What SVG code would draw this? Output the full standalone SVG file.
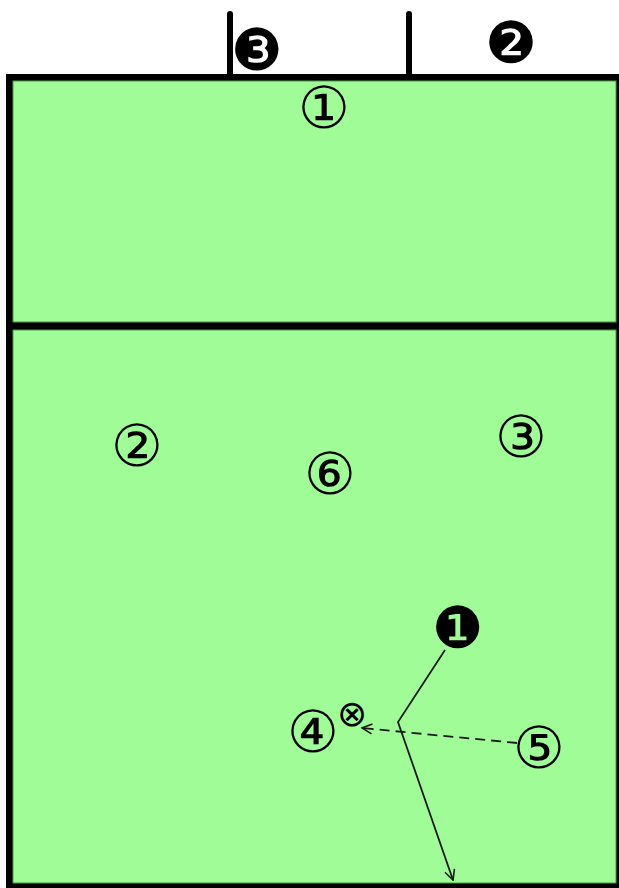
<svg xmlns="http://www.w3.org/2000/svg" width="619" height="888" viewBox="0 0 619 888">
<style>
.court{fill:#9ffc97;stroke:#4a9a44;stroke-width:1}
.post{stroke:#000;stroke-width:6;stroke-linecap:round}
.p{font-family:"DejaVu Sans",sans-serif;font-size:58px;text-anchor:middle;fill:#000}
.ball{font-family:"DejaVu Sans",sans-serif;font-size:36px;text-anchor:middle;fill:#000}
.move{stroke:#1a1a1a;stroke-width:1.8;fill:none}
</style>
<defs>
<marker id="arr" viewBox="0 0 12 12" refX="11" refY="6" markerWidth="12" markerHeight="12" markerUnits="userSpaceOnUse" orient="auto">
<path d="M1,1 L11,6 L1,11" fill="none" stroke="#1a1a1a" stroke-width="1.6"/>
</marker>
</defs>
<g id="court">
<rect x="6" y="74" width="620" height="820" fill="#000"/>
<rect class="court" x="13" y="81" width="603" height="241"/>
<rect class="court" x="13" y="330" width="603" height="553"/>
</g>
<g id="net">
<line class="post" x1="230" y1="14" x2="230" y2="76"/>
<line class="post" x1="409" y1="14" x2="409" y2="76"/>
</g>
<g id="connectors">
<polyline class="move" points="445,650 398,722 453,880" marker-end="url(#arr)"/>
<line class="move" x1="517" y1="743" x2="362" y2="728" stroke-dasharray="10,6" marker-end="url(#arr)"/>
</g>
<g id="opp3"><text class="p" x="257" y="70">❸</text></g>
<g id="opp2"><text class="p" x="511" y="63">❷</text></g>
<g id="opp1"><text class="p" x="324" y="128">①</text></g>
<g id="p2"><text class="p" x="137" y="466">②</text></g>
<g id="p6"><text class="p" x="330" y="494">⑥</text></g>
<g id="p3"><text class="p" x="521" y="457">③</text></g>
<g id="p1"><text class="p" x="458" y="648">❶</text></g>
<g id="p4"><text class="p" x="313" y="752">④</text></g>
<g id="ball"><text class="ball" x="352" y="726">⊗</text></g>
<g id="p5"><text class="p" x="539" y="768">⑤</text></g>
</svg>
